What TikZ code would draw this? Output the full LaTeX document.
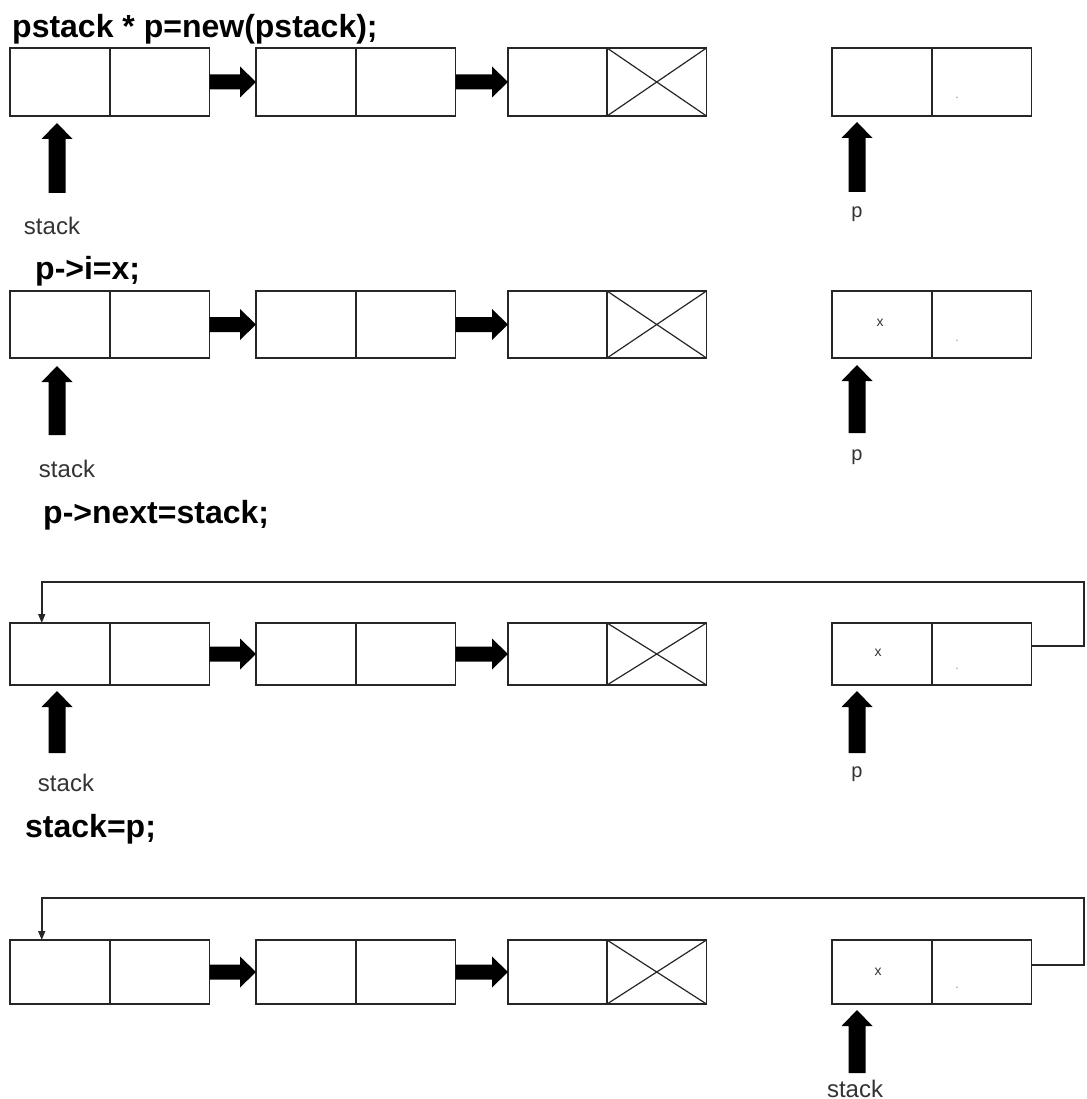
\documentclass[tikz,border=0pt]{standalone}
\usepackage{fontspec}
\setmainfont{Liberation Sans}
\usetikzlibrary{arrows.meta,calc}
\definecolor{linec}{HTML}{262626}
\definecolor{labc}{HTML}{333333}
\definecolor{dotc}{HTML}{8A8A8A}
\newcommand\fatright[2]{\fill[black] let \p1=(#1), \p2=(#2) in (\x1,\y1+7.5pt) -- (\x2-16pt,\y1+7.5pt) -- (\x2-16pt,\y1+15.5pt) -- (\x2,\y1) -- (\x2-16pt,\y1-15.5pt) -- (\x2-16pt,\y1-7.5pt) -- (\x1,\y1-7.5pt) -- cycle;}
\newcommand\fatup[2]{\fill[black] let \p1=(#1), \p2=(#2) in (\x1-8.5pt,\y1) -- (\x1-8.5pt,\y2-16pt) -- (\x1-15.5pt,\y2-16pt) -- (\x1,\y2) -- (\x1+15.5pt,\y2-16pt) -- (\x1+8.5pt,\y2-16pt) -- (\x1+8.5pt,\y1) -- cycle;}
\newcommand\lrow[3]{%
  \foreach \n/\xx in {a1/10,a2/110,b1/256,b2/356,c1/508,c2/607,p1/832,p2/932}{%
    \node[cell,minimum height=#3pt] (#1\n) at (\xx,#2) {};}
  \draw[xline] (#1c2.north west) -- (#1c2.south east) (#1c2.north east) -- (#1c2.south west);
  \fatright{#1a2.east}{#1b1.west}
  \fatright{#1b2.east}{#1c1.west}
}
\tikzset{
  cell/.style={draw=linec, line width=1.5pt, rectangle, inner sep=0pt, outer sep=0pt, anchor=north west, minimum width=99.5pt},
  xline/.style={draw=linec, line width=1.2pt},
  title/.style={font=\fontsize{32}{38}\selectfont\bfseries, anchor=base west, inner sep=0pt},
  slab/.style={font=\fontsize{24}{28}\selectfont, text=labc, anchor=base, inner sep=0pt},
  plab/.style={font=\fontsize{20}{24}\selectfont, text=labc, anchor=base, inner sep=0pt},
  xlab/.style={font=\fontsize{14}{16}\selectfont, text=labc, inner sep=0pt},
  dotlab/.style={font=\fontsize{12}{14}\selectfont, text=dotc, anchor=base, inner sep=0pt},
  loopline/.style={draw=linec, line width=1.5pt, -{Triangle[length=9pt,width=7pt]}},
}
\begin{document}
\begin{tikzpicture}[x=1pt,y=-1pt]
\useasboundingbox (0,0) rectangle (1086,1099);
% titles
\node[title] (t1) at (12,38) {pstack * p=new(pstack);};
\node[title] (t2) at (35,279) {p->i=x;};
\node[title] (t3) at (43,523) {p->next=stack;};
\node[title] (t4) at (25,837) {stack=p;};
% row 1
\lrow{r1}{48}{68}
\node[dotlab] (r1d) at (957,99) {.};
\coordinate (r1st) at (57,193);
\fatup{r1st}{$(r1st |- r1a1.south)+(0,7)$}
\coordinate (r1pt) at (857,192);
\fatup{r1pt}{$(r1pt |- r1p1.south)+(0,6)$}
\node[slab] (r1s) at (52,235) {stack};
\node[plab] (r1p) at (857,218) {p};
% row 2
\lrow{r2}{291}{67}
\node[xlab] (r2x) at (880,323) {x};
\node[dotlab] (r2d) at (957,341) {.};
\coordinate (r2st) at (57,435);
\fatup{r2st}{$(r2st |- r2a1.south)+(0,8)$}
\coordinate (r2pt) at (857,433);
\fatup{r2pt}{$(r2pt |- r2p1.south)+(0,7)$}
\node[slab] (r2s) at (67,477) {stack};
\node[plab] (r2p) at (857,460) {p};
% row 3
\lrow{r3}{623}{62}
\node[xlab] (r3x) at (878,653) {x};
\node[dotlab] (r3d) at (957,669) {.};
\coordinate (r3st) at (57,753);
\fatup{r3st}{$(r3st |- r3a1.south)+(0,6)$}
\coordinate (r3pt) at (857,753);
\fatup{r3pt}{$(r3pt |- r3p1.south)+(0,6)$}
\node[slab] (r3s) at (66,791) {stack};
\node[plab] (r3p) at (857,777) {p};
\coordinate (r3c) at (1084,582);
\draw[loopline] ([yshift=8pt]r3p2.east) -| (r3c) -| ([xshift=-18pt]r3a1.north);
% row 4
\lrow{r4}{940}{64}
\node[xlab] (r4x) at (878,972) {x};
\node[dotlab] (r4d) at (957,988) {.};
\coordinate (r4pt) at (857,1073);
\fatup{r4pt}{$(r4pt |- r4p1.south)+(0,6)$}
\node[slab] (r4s) at (855,1097) {stack};
\coordinate (r4c) at (1084,898);
\draw[loopline] ([yshift=7pt]r4p2.east) -| (r4c) -| ([xshift=-18pt]r4a1.north);
\end{tikzpicture}
\end{document}
